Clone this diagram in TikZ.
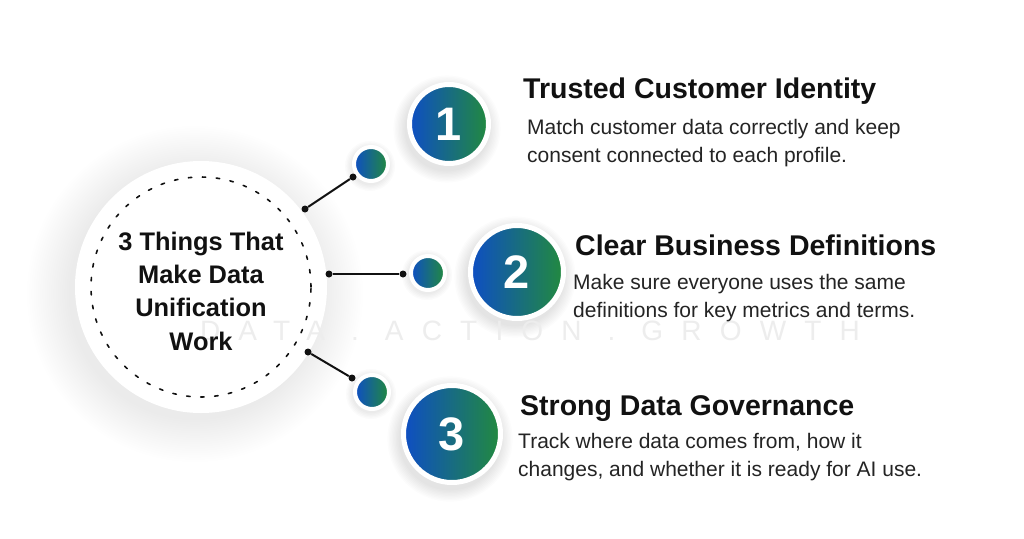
\documentclass[tikz,border=0pt]{standalone}
\usepackage{fontspec}
\setmainfont{Liberation Sans}
\usepackage{tikz}
\usetikzlibrary{calc, positioning}
\usepackage{xcolor}
\definecolor{stepBlue}{RGB}{14, 78, 196}
\definecolor{stepGreen}{RGB}{34, 138, 62}
\definecolor{inkBlack}{RGB}{17, 17, 17}
\definecolor{mistGray}{RGB}{237, 237, 237}

% soft round shadow: centre, radius (pt), steps, step size (pt), opacity
\newcommand{\softglow}[5]{%
  \foreach \k in {1,...,#3}
    \fill[black, opacity=#5] #1 circle[radius={#2pt+\k*#4pt}];
}

\tikzset{
  hubdisc/.style={circle, fill=white, minimum size=252pt, inner sep=0pt},
  numdisc/.style={circle, left color=stepBlue, right color=stepGreen, draw=white,
    line width=5pt, text=white, inner sep=0pt,
    font=\fontsize{47}{47}\selectfont\bfseries},
  tipdisc/.style={circle, left color=stepBlue, right color=stepGreen, draw=white,
    line width=4pt, minimum size=34pt, inner sep=0pt},
  pin/.style={circle, fill=inkBlack, minimum size=7pt, inner sep=0pt},
  link/.style={draw=inkBlack, line width=2pt},
  headline/.style={anchor=base west, inner sep=0pt, text=inkBlack,
    font=\fontsize{28.5}{30}\selectfont\bfseries},
  blurb/.style={anchor=base west, align=left, inner sep=0pt, text=inkBlack!92,
    font=\fontsize{21}{28}\selectfont},
}

\begin{document}
\begin{tikzpicture}[x=1pt, y=-1pt]
  \fill[white] (0,0) rectangle (1024,538);
  \useasboundingbox (0,0) rectangle (1024,538);

  % shadows first
  \softglow{(195,294)}{124}{20}{2.2}{0.0055}
  \softglow{(447,129)}{41}{9}{1.4}{0.011}
  \softglow{(515,277)}{48}{9}{1.4}{0.011}
  \softglow{(450,439)}{50}{9}{1.4}{0.011}
  \softglow{(370,166)}{18}{5}{1.4}{0.016}
  \softglow{(427,275)}{18}{5}{1.4}{0.016}
  \softglow{(371,394)}{18}{5}{1.4}{0.016}

  % central hub
  \node[hubdisc] (hub) at (201,287) {};
  \draw[inkBlack, line width=1.6pt, line cap=round, dash pattern=on 3.5pt off 10.5pt]
    (hub.center) circle[radius=110pt];

  % watermark line
  \node[anchor=base, text=mistGray,
    font=\fontsize{28}{28}\selectfont\addfontfeature{LetterSpace=65}] (motto)
    at (530,340) {DATA . ACTION . GROWTH};

  \node[align=center, text=inkBlack, font=\fontsize{25.4}{33.3}\selectfont\bfseries]
    (title) at (201,291) {3 Things That\\Make Data\\Unification\\Work};

  % small discs and connectors
  \node[tipdisc] (tip1) at (371,164) {};
  \node[tipdisc] (tip2) at (428,273) {};
  \node[tipdisc] (tip3) at (372,392) {};

  \node[pin] (pin1a) at (305,209) {};
  \node[pin] (pin1b) at (353,177) {};
  \node[pin] (pin2a) at (329,274) {};
  \node[pin] (pin2b) at (403,274) {};
  \node[pin] (pin3a) at (308,352) {};
  \node[pin] (pin3b) at (352,378) {};
  \draw[link] (pin1a) -- (pin1b);
  \draw[link] (pin2a) -- (pin2b);
  \draw[link] (pin3a) -- (pin3b);

  % numbered discs
  \node[numdisc, minimum size=79pt] (num1) at (449,124) {1};
  \node[numdisc, minimum size=93pt] (num2) at (517,272) {2};
  \node[numdisc, minimum size=97pt] (num3) at (452,434) {3};

  % texts (blurb base = last line)
  \node[headline] (head1) at (523,98) {Trusted Customer Identity};
  \node[blurb] (body1) at (527,162) {Match customer data correctly and keep\\consent connected to each profile.};
  \node[headline] (head2) at (575,255) {Clear Business Definitions};
  \node[blurb] (body2) at (573,317) {Make sure everyone uses the same\\definitions for key metrics and terms.};
  \node[headline] (head3) at (520,415) {Strong Data Governance};
  \node[blurb] (body3) at (518,476) {Track where data comes from, how it\\changes, and whether it is ready for AI use.};
\end{tikzpicture}
\end{document}
